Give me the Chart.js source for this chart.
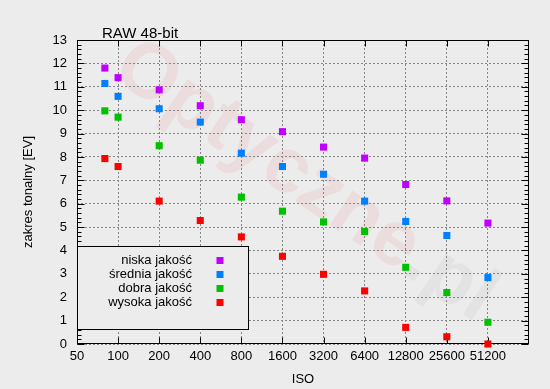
<!DOCTYPE html>
<html><head><meta charset="utf-8">
<script src="https://cdn.jsdelivr.net/npm/chart.js@4/dist/chart.umd.min.js"></script>
<style>html,body{margin:0;padding:0;background:#ececec;overflow:hidden;}</style>
</head><body>
<canvas id="c" width="550" height="389" style="display:block;width:550px;height:389px"></canvas>
<script>
// ---- data ----
const isoValues = [80, 100, 200, 400, 800, 1600, 3200, 6400, 12800, 25600, 51200];
const isoTickLabels = [50, 100, 200, 400, 800, 1600, 3200, 6400, 12800, 25600, 51200];
const seriesNames = ['niska jakość', 'średnia jakość', 'dobra jakość', 'wysoka jakość'];
const niska   = [11.80, 11.39, 10.87, 10.19, 9.59, 9.08, 8.42, 7.95, 6.82, 6.12, 5.17];
const srednia = [11.14, 10.59, 10.06, 9.49, 8.16, 7.59, 7.26, 6.11, 5.24, 4.64, 2.84];
const dobra   = [9.97, 9.70, 8.48, 7.86, 6.28, 5.68, 5.22, 4.81, 3.28, 2.20, 0.93];
const wysoka  = [7.93, 7.59, 6.11, 5.28, 4.58, 3.75, 2.98, 2.27, 0.71, 0.31, 0.00];
const titleText = 'RAW 48-bit';
const xTitle = 'ISO';
const yTitle = 'zakres tonalny [EV]';
const watermarkMain = 'Optyczne';
const watermarkTail = '.pl';

// ---- style ----
const FONT = "'Liberation Sans', Arial, Helvetica, sans-serif";
const BG = '#ececec';
const colors = ['#c000ff', '#0080ff', '#00c000', '#ff0000'];
const seriesValues = [niska, srednia, dobra, wysoka];

const datasets = seriesNames.map((name, i) => ({
  label: name,
  data: isoValues.map((x, j) => ({x: x, y: seriesValues[i][j]})),
  backgroundColor: colors[i],
  borderColor: colors[i],
  pointStyle: 'rect',
  pointRadius: 5,
  pointBorderWidth: 0,
  showLine: false,
  clip: false
}));

const decor = {
  id: 'decor',
  beforeDraw(chart) {
    const ctx = chart.ctx;
    ctx.save();
    ctx.fillStyle = BG;
    ctx.fillRect(0, 0, chart.width, chart.height);
    // watermark
    ctx.translate(305, 182);
    ctx.rotate(34 * Math.PI / 180);
    ctx.font = "bold 78px " + FONT;
    ctx.textAlign = 'left';
    ctx.textBaseline = 'middle';
    const w1 = ctx.measureText(watermarkMain).width;
    const w2 = ctx.measureText(watermarkTail).width;
    const x0 = -(w1 + w2) / 2;
    ctx.fillStyle = 'rgba(225,40,40,0.075)';
    ctx.fillText(watermarkMain, x0, 0);
    ctx.fillStyle = 'rgba(0,0,0,0.035)';
    ctx.fillText(watermarkTail, x0 + w1, 0);
    ctx.restore();
  },
  beforeDatasetsDraw(chart) {
    const {ctx, chartArea: a, scales: {x, y}} = chart;
    ctx.save();
    ctx.strokeStyle = '#000';
    ctx.lineWidth = 1;
    const L = Math.round(a.left) + 0.5, R = Math.round(a.right) - 0.5;
    const T = Math.round(a.top) + 0.5, B = Math.round(a.bottom) - 0.5;
    ctx.beginPath();
    isoTickLabels.forEach(v => {
      const px = Math.round(x.getPixelForValue(v)) + 0.5;
      ctx.moveTo(px, B); ctx.lineTo(px, B - 6);
      ctx.moveTo(px, T); ctx.lineTo(px, T + 6);
    });
    const minorStep = 0.2;
    for (let i = 0; i <= 65; i++) {
      const py = Math.round(y.getPixelForValue(i * minorStep)) + 0.5;
      const len = (i % 5 === 0) ? 7 : 4;
      ctx.moveTo(L, py); ctx.lineTo(L + len, py);
      ctx.moveTo(R, py); ctx.lineTo(R - len, py);
    }
    ctx.stroke();
    ctx.strokeRect(L, T, R - L, B - T);
    // title
    ctx.fillStyle = '#000';
    ctx.font = "15px " + FONT;
    ctx.textAlign = 'left';
    ctx.textBaseline = 'alphabetic';
    ctx.fillText(titleText, 102, 37.5);
    ctx.restore();
  },
  afterDatasetsDraw(chart) {
    const {ctx, chartArea: a} = chart;
    ctx.save();
    const bx = Math.round(a.left) + 0.5, by = 246.5, bw = 171, bh = 83;
    ctx.fillStyle = BG;
    ctx.fillRect(bx, by, bw, bh);
    ctx.strokeStyle = '#000';
    ctx.lineWidth = 1;
    ctx.strokeRect(bx, by, bw, bh);
    ctx.font = "13px " + FONT;
    ctx.textAlign = 'right';
    ctx.textBaseline = 'middle';
    chart.data.datasets.forEach((ds, i) => {
      const cy = 260.5 + i * 14;
      ctx.fillStyle = '#000';
      ctx.fillText(ds.label, 192, cy);
      ctx.fillStyle = ds.backgroundColor;
      ctx.fillRect(216.5, cy - 3.5, 7, 7);
    });
    ctx.restore();
  }
};

new Chart(document.getElementById('c'), {
  type: 'scatter',
  data: {datasets},
  options: {
    responsive: false,
    animation: false,
    devicePixelRatio: 1,
    layout: {padding: {top: 40, right: 21, left: 0, bottom: 0}},
    plugins: {legend: {display: false}, title: {display: false}, tooltip: {enabled: false}},
    scales: {
      x: {
        type: 'logarithmic',
        min: 50, max: 102400,
        afterBuildTicks(s) { s.ticks = isoTickLabels.map(v => ({value: v})); },
        afterFit(s) { s.height = 45; },
        ticks: {autoSkip: false, maxRotation: 0, minRotation: 0, padding: 5, color: '#000',
                font: {family: FONT, size: 13}, callback: (v) => String(v)},
        grid: {color: '#858585', lineWidth: 1, drawTicks: false},
        border: {display: false, dash: [2, 2]},
        title: {display: true, text: xTitle, color: '#000', font: {family: FONT, size: 13}, padding: {top: 0, bottom: 2}}
      },
      y: {
        type: 'linear',
        min: 0, max: 13,
        afterFit(s) { s.width = 77; },
        ticks: {stepSize: 1, padding: 10, color: '#000', font: {family: FONT, size: 13}},
        grid: {color: '#858585', lineWidth: 1, drawTicks: false},
        border: {display: false, dash: [2, 2]},
        title: {display: true, text: yTitle, color: '#000', font: {family: FONT, size: 13}, padding: {top: 21, bottom: 0}}
      }
    }
  },
  plugins: [decor]
});
</script>
</body></html>
